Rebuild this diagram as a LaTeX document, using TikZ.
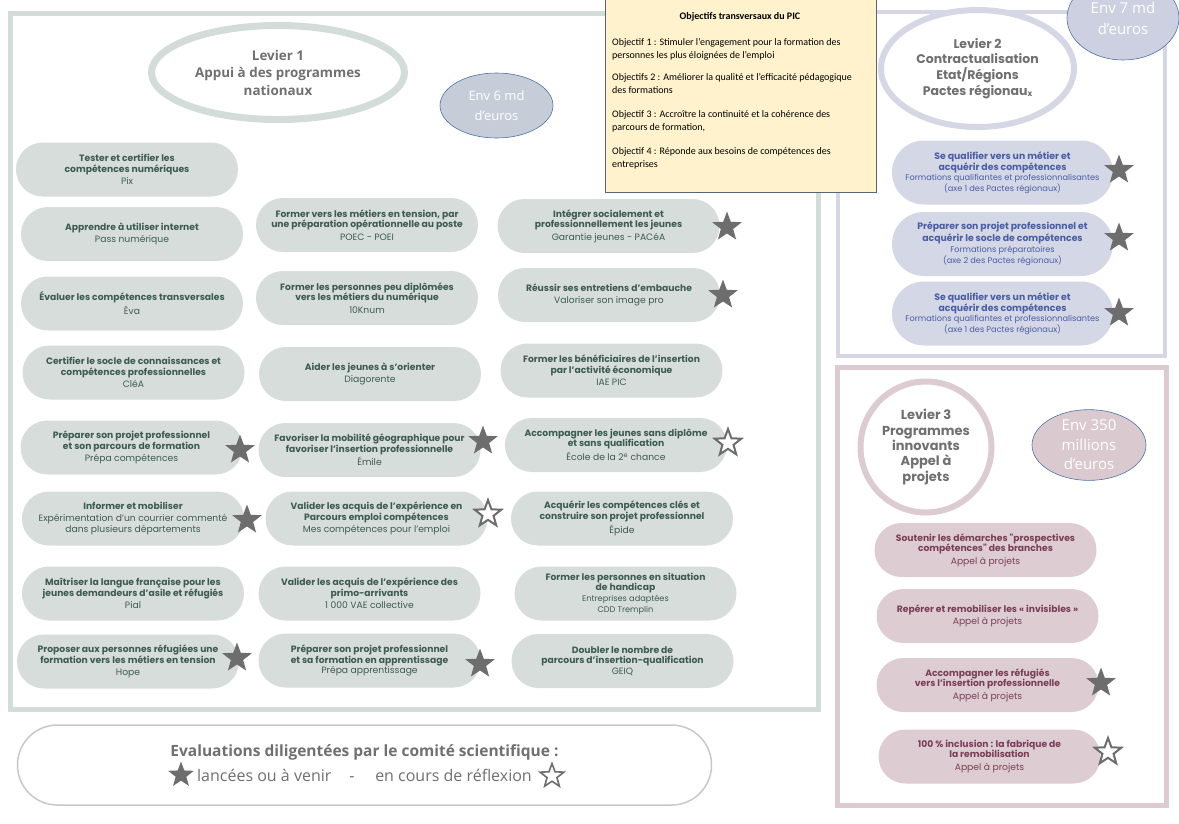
\documentclass[tikz,border=0pt]{standalone}
\usepackage{fontspec}
\setmainfont{Open Sans}
\newfontfamily\opsans{Open Sans}
\newfontfamily\pop{Poppins}
\newfontfamily\carl{Carlito}
\usetikzlibrary{shapes.geometric}
\definecolor{lonefr}{HTML}{D4DCD9}
\definecolor{lonefill}{HTML}{D6DDDA}
\definecolor{lonetxt}{HTML}{3E5B51}
\definecolor{ltwofr}{HTML}{D5D7E5}
\definecolor{ltwofill}{HTML}{D4D7E6}
\definecolor{ltwotxt}{HTML}{4A5DA3}
\definecolor{lthrfr}{HTML}{DCCBD1}
\definecolor{lthrfill}{HTML}{DDCDD3}
\definecolor{lthrtxt}{HTML}{7A3E56}
\definecolor{headgray}{HTML}{707070}
\definecolor{envone}{HTML}{C6CDD8}
\definecolor{envtwo}{HTML}{CDD0E0}
\definecolor{envthr}{HTML}{DACAD0}
\definecolor{envblue}{HTML}{4E72A6}
\definecolor{yfill}{HTML}{FFF2CC}
\definecolor{yborder}{HTML}{55667A}
\definecolor{stargray}{HTML}{6D6D6D}
\definecolor{leggray}{HTML}{C8C8C8}
\newcommand{\bl}[1]{{\bfseries #1}}
\newcommand{\blk}[1]{{\bfseries\fontsize{9.3}{10.2}\selectfont #1}}
\begin{document}
\begin{tikzpicture}[x=1pt,y=-1pt,
  card/.style={rectangle, rounded corners=26.9pt, minimum height=54pt, minimum width=222pt, inner sep=0pt, align=center},
  lonecard/.style={card, fill=lonefill, text=lonetxt, font=\pop\fontsize{9.2}{10.4}\selectfont},
  ltwocard/.style={card, fill=ltwofill, text=ltwotxt, font=\pop\fontsize{8.2}{9.6}\selectfont, minimum width=221pt, minimum height=64pt, rounded corners=31.9pt},
  lthrcard/.style={card, fill=lthrfill, text=lthrtxt, font=\pop\fontsize{9.2}{10.4}\selectfont},
  fstar/.style={star, star points=5, star point ratio=2.4, minimum size=31pt, inner sep=0pt, fill=stargray},
  ostar/.style={star, star points=5, star point ratio=2.4, minimum size=28pt, inner sep=0pt, draw=stargray, line width=2pt, fill=white},
  env/.style={ellipse, draw=envblue, line width=0.6pt, inner sep=0pt, text=white, align=center},
  lev/.style={ellipse, fill=white, inner sep=0pt, align=center, text=headgray},
  ytext/.style={anchor=north west, inner sep=0pt, align=left, font=\carl\fontsize{10}{13}\selectfont},
  legtxt/.style={font=\opsans\fontsize{16}{18}\selectfont, text=headgray, inner sep=0pt}
]
\useasboundingbox (0,0) rectangle (1179,823);
% frames
\draw[lonefr, line width=5pt] (10,13) rectangle (818,709);
\draw[ltwofr, line width=4pt] (838,12) rectangle (1165,356);
\draw[lthrfr, line width=5pt] (837,367) rectangle (1166,805);
% yellow box
\node[draw=yborder, fill=yfill, line width=0.8pt, minimum width=271pt, minimum height=194pt, inner sep=0pt] (ybox) at (740.5,95) {};
\node[font=\carl\bfseries\fontsize{10}{12}\selectfont, inner sep=0pt] (ytitle) at (740,17) {Objectifs transversaux du PIC};
\node[ytext] (yo1) at (612,38) {Objectif 1 : Stimuler l’engagement pour la formation des\\personnes les plus éloignées de l’emploi};
\node[ytext] (yo2) at (612,73) {Objectifs 2 : Améliorer la qualité et l’efficacité pédagogique\\des formations};
\node[ytext] (yo3) at (612,110) {Objectif 3 : Accroître la continuité et la cohérence des\\parcours de formation,};
\node[ytext] (yo4) at (612,147) {Objectif 4 : Réponde aux besoins de compétences des\\entreprises};
% Levier headers
\node[lev, draw=lonefr, line width=7pt, minimum width=253pt, minimum height=94pt, font=\opsans\bfseries\fontsize{13.4}{17.5}\selectfont] (lev1) at (278,72.5) {\raisebox{-2.5pt}{Levier 1}\\\raisebox{-2.5pt}{Appui à des programmes}\\\raisebox{-2.5pt}{nationaux}};
\node[env, fill=envone, minimum width=113pt, minimum height=65pt, font=\opsans\fontsize{13}{20}\selectfont] (env1) at (496.5,105.5) {Env 6 md\\d’euros};
\node[lev, draw=ltwofr, line width=6pt, minimum width=193pt, minimum height=117pt, font=\pop\bfseries\fontsize{12.5}{15.7}\selectfont] (lev2) at (977.5,68.5) {Levier 2\\Contractualisation\\Etat/Régions\\Pactes régionau\raisebox{-1.5pt}{\fontsize{8}{8}\selectfont x}};
\node[env, fill=envtwo, minimum width=112pt, minimum height=84pt, font=\opsans\fontsize{15}{21}\selectfont] (env2) at (1123,18) {Env 7 md\\d’euros};
\node[lev, draw=lthrfr, line width=6pt, circle, minimum size=131pt, font=\pop\bfseries\fontsize{13}{15.3}\selectfont] (lev3) at (926,447) {Levier 3\\Programmes\\innovants\\Appel à\\projets};
\node[env, fill=envthr, minimum width=114pt, minimum height=66pt, font=\opsans\fontsize{15}{19.5}\selectfont] (env3) at (1089,445) {Env 350\\millions\\d’euros};
% Levier 1 cards - column 1
\node[lonecard] (c11) at (127,169.5) {\bl{Tester et certifier les}\\\bl{compétences numériques}\\[2pt]Pix};
\node[lonecard] (c12) at (132,234) {\bl{Apprendre à utiliser internet}\\[2pt]Pass numérique};
\node[lonecard] (c13) at (132,303.5) {\bl{Évaluer les compétences transversales}\\[2pt]Éva};
\node[lonecard] (c14) at (133.5,372.5) {\bl{Certifier le socle de connaissances et}\\\bl{compétences professionnelles}\\[2pt]CléA};
\node[lonecard] (c15) at (131.5,447.5) {\bl{Préparer son projet professionnel}\\\bl{et son parcours de formation}\\[2pt]Prépa compétences};
\node[lonecard] (c16) at (133,518.5) {\bl{Informer et mobiliser}\\[2pt]Expérimentation d’un courrier commenté\\dans plusieurs départements};
\node[lonecard] (c17) at (133,593.5) {\bl{Maîtriser la langue française pour les}\\\bl{jeunes demandeurs d’asile et réfugiés}\\[2pt]Pial};
\node[lonecard] (c18) at (128,661.5) {\bl{Proposer aux personnes réfugiées une}\\\bl{formation vers les métiers en tension}\\[2pt]Hope};
% column 2
\node[lonecard] (c21) at (367,225) {\bl{Former vers les métiers en tension, par}\\\bl{une préparation opérationnelle au poste}\\[2pt]POEC - POEI};
\node[lonecard] (c22) at (367,298) {\bl{Former les personnes peu diplômées}\\\bl{vers les métiers du numérique}\\[2pt]10Knum};
\node[lonecard] (c23) at (370,374) {\bl{Aider les jeunes à s’orienter}\\[2pt]Diagorente};
\node[lonecard] (c24) at (369.5,450) {\bl{Favoriser la mobilité géographique pour}\\\bl{favoriser l’insertion professionnelle}\\[2pt]Émile};
\node[lonecard] (c25) at (376.5,518.5) {\bl{Valider les acquis de l’expérience en}\\\bl{Parcours emploi compétences}\\[2pt]Mes compétences pour l’emploi};
\node[lonecard] (c26) at (369.5,593.5) {\bl{Valider les acquis de l’expérience des}\\\bl{primo-arrivants}\\[2pt]1 000 VAE collective};
\node[lonecard] (c27) at (369.5,660.5) {\bl{Préparer son projet professionnel}\\\bl{et sa formation en apprentissage}\\Prépa apprentissage};
% column 3
\node[lonecard] (c31) at (608.5,226) {\bl{Intégrer socialement et}\\\bl{professionnellement les jeunes}\\[2pt]Garantie jeunes - PACéA};
\node[lonecard] (c32) at (609,295) {\bl{Réussir ses entretiens d’embauche}\\[2pt]Valoriser son image pro};
\node[lonecard] (c33) at (611.5,370.5) {\bl{Former les bénéficiaires de l’insertion}\\\bl{par l’activité économique}\\[2pt]IAE PIC};
\node[lonecard] (c34) at (616,445) {\bl{Accompagner les jeunes sans diplôme}\\\bl{et sans qualification}\\[2pt]École de la 2\textsuperscript{e} chance};
\node[lonecard] (c35) at (622,518.5) {\bl{Acquérir les compétences clés et}\\\bl{construire son projet professionnel}\\[2pt]Épide};
\node[lonecard] (c36) at (625.5,593.5) {\bl{Former les personnes en situation}\\\bl{de handicap}\\[1pt]{\fontsize{8.2}{9.6}\selectfont Entreprises adaptées}\\{\fontsize{8.2}{9.6}\selectfont CDD Tremplin}};
\node[lonecard] (c37) at (622.5,661) {\bl{Doubler le nombre de}\\\bl{parcours d’insertion-qualification}\\GEIQ};
% Levier 2 cards
\node[ltwocard] (k1) at (1002.5,172.5) {\blk{Se qualifier vers un métier et}\\\blk{acquérir des compétences}\\Formations qualifiantes et professionnalisantes\\(axe 1 des Pactes régionaux)};
\node[ltwocard] (k2) at (1002.5,244) {\blk{Préparer son projet professionnel et}\\\blk{acquérir le socle de compétences}\\[2pt]Formations préparatoires\\(axe 2 des Pactes régionaux)};
\node[ltwocard] (k3) at (1002.5,313.5) {\blk{Se qualifier vers un métier et}\\\blk{acquérir des compétences}\\Formations qualifiantes et professionnalisantes\\(axe 1 des Pactes régionaux)};
% Levier 3 cards
\node[lthrcard] (p1) at (985.5,550) {\bl{Soutenir les démarches "prospectives}\\\bl{compétences" des branches}\\[2pt]Appel à projets};
\node[lthrcard] (p2) at (987.5,616) {\bl{Repérer et remobiliser les « invisibles »}\\[2pt]Appel à projets};
\node[lthrcard] (p3) at (987.5,685) {\bl{Accompagner les réfugiés}\\\bl{vers l’insertion professionnelle}\\[2pt]Appel à projets};
\node[lthrcard] (p4) at (989.5,756.5) {\bl{100 \% inclusion : la fabrique de}\\\bl{la remobilisation}\\[2pt]Appel à projets};
% stars
\node[fstar] (s15) at (240,450) {};
\node[fstar] (s16) at (247,520) {};
\node[fstar] (s18) at (237,658) {};
\node[fstar] (s24) at (483,441) {};
\node[ostar] (s25) at (488,514) {};
\node[fstar] (s27) at (480,664) {};
\node[fstar] (s31) at (727,227) {};
\node[fstar] (s32) at (723,295) {};
\node[ostar] (s34) at (728,443) {};
\node[fstar] (sk1) at (1119,170) {};
\node[fstar] (sk2) at (1119,238) {};
\node[fstar] (sk3) at (1119,313) {};
\node[fstar] (sp3) at (1101,683) {};
\node[ostar] (sp4) at (1108,752) {};
% legend
\node[draw=leggray, line width=1.5pt, fill=white, rounded corners=39.9pt, minimum width=694pt, minimum height=80pt, inner sep=0pt] (legend) at (364.5,765) {};
\node[legtxt, font=\opsans\bfseries\fontsize{15.5}{18}\selectfont] (legtitle) at (364.5,752) {Evaluations diligentées par le comité scientifique :};
\node[fstar, minimum size=27pt] (legf) at (181,775) {};
\node[legtxt, anchor=base west] (legl) at (197,781.5) {lancées ou à venir};
\node[legtxt, anchor=base] (legd) at (352,781.5) {-};
\node[legtxt, anchor=base east] (legr) at (532,781.5) {en cours de réflexion};
\node[ostar, minimum size=25pt, line width=1.6pt] (lego) at (552,776) {};
\end{tikzpicture}
\end{document}
